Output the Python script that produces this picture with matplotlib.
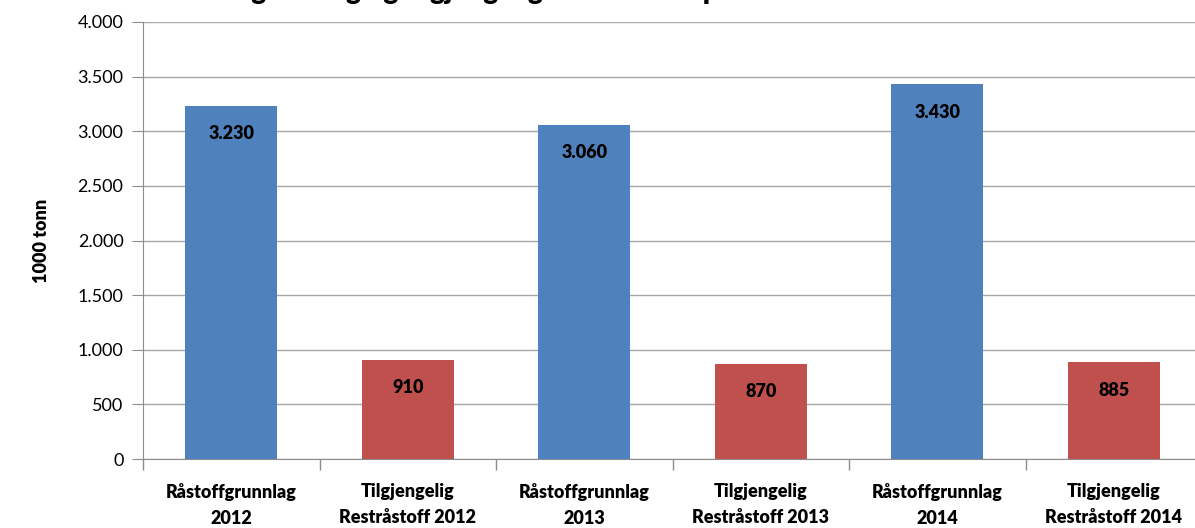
import matplotlib.pyplot as plt
from matplotlib.ticker import FuncFormatter

kategorier = ["Råstoffgrunnlag\n2012", "Tilgjengelig\nRestråstoff 2012",
              "Råstoffgrunnlag\n2013", "Tilgjengelig\nRestråstoff 2013",
              "Råstoffgrunnlag\n2014", "Tilgjengelig\nRestråstoff 2014"]
verdier = [3230, 910, 3060, 870, 3430, 885]
farger = ["#4F81BD", "#C0504D", "#4F81BD", "#C0504D", "#4F81BD", "#C0504D"]
tittel = "Råstoffgrunnlag og tilgjengelig restråstoff i perioden 2012-2014"

plt.rcParams['font.family'] = ['Lato', 'DejaVu Sans']
fet = "heavy"

W, H = 1195, 528
fig = plt.figure(figsize=(W / 100, H / 100), dpi=100)
ax = fig.add_axes([143 / W, 1 - 459 / H, 1059 / W, 437 / H])

x = range(len(verdier))
bars = ax.bar(x, verdier, width=0.52, color=farger, zorder=3)

for b, v in zip(bars, verdier):
    ax.annotate(f"{v:,}".replace(",", "."), (b.get_x() + b.get_width() / 2, v),
                xytext=(0, -20), textcoords="offset points", ha="center", va="center",
                fontsize=13, fontweight=fet, color="black", zorder=4)

ax.set_xlim(-0.5, len(verdier) - 0.5)
ax.set_ylim(0, 4000)
ax.set_yticks(range(0, 4001, 500))
ax.yaxis.set_major_formatter(FuncFormatter(lambda v, p: f"{int(v):,}".replace(",", ".")))
ax.grid(axis="y", color="#A6A6A6", linewidth=1, zorder=0)

ax.set_xticks([i + 0.5 for i in range(-1, len(verdier))], minor=False)
ax.set_xticklabels([])
ax.set_xticks(list(x), minor=True)
ax.set_xticklabels(kategorier, minor=True, fontsize=13, fontweight=fet, linespacing=1.65)
ax.tick_params(axis="x", which="minor", length=0, pad=17)
ax.tick_params(axis="x", which="major", length=8, color="#8C8C8C", width=1)
ax.tick_params(axis="y", length=8, color="#8C8C8C", labelsize=13, pad=6)

for s in ["top", "right"]:
    ax.spines[s].set_visible(False)
for s in ["left", "bottom"]:
    ax.spines[s].set_color("#8C8C8C")

ax.set_ylabel("1000 tonn", fontsize=13, fontweight=fet, labelpad=20)

fig.text(159 / W, 1 + 1 / H, tittel, ha="left", va="baseline", fontsize=20, fontweight=fet)

fig.savefig("out.png", dpi=100)
